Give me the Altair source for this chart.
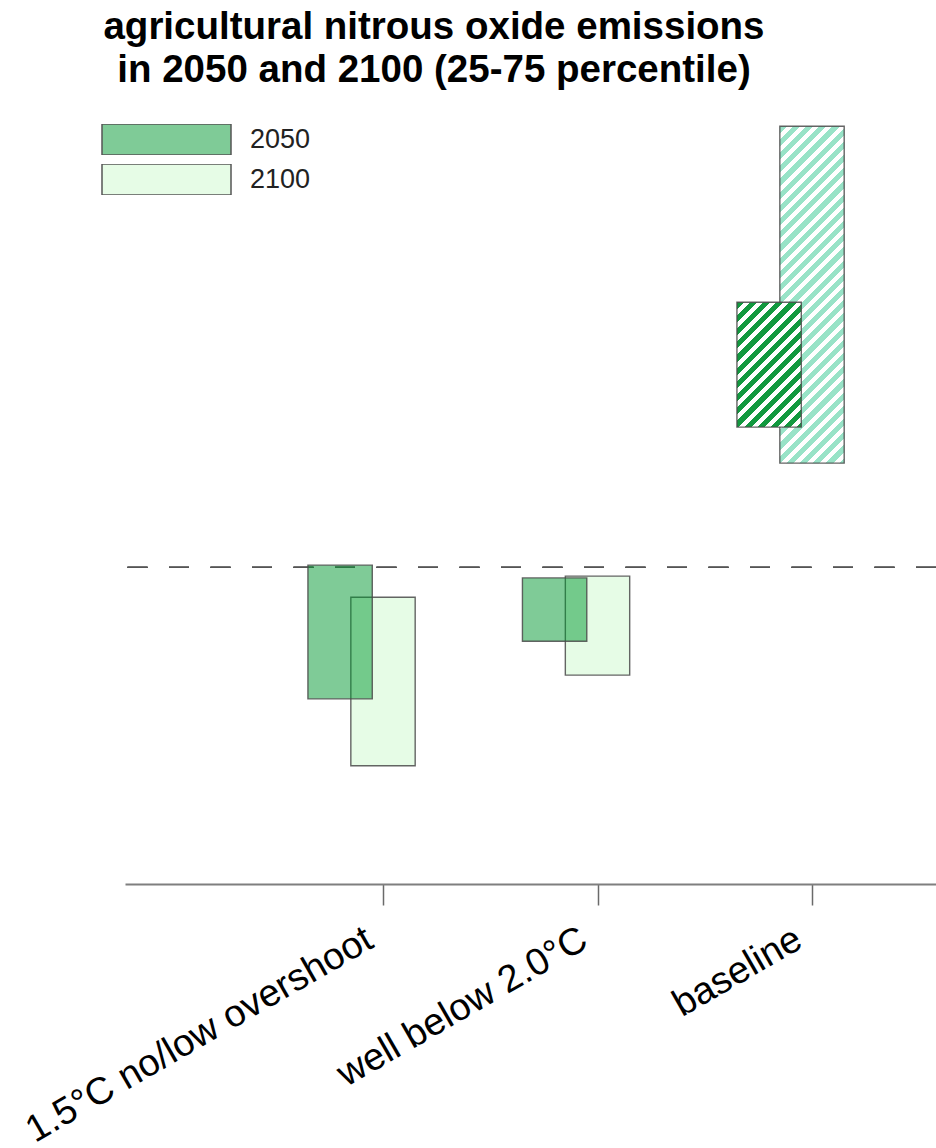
import altair as alt
import pandas as pd

# Interquartile range (25th-75th percentile) of agricultural N2O emissions,
# relative change against 2010 in percent, per scenario class and year.
scenarios = ["1.5°C no/low overshoot", "well below 2.0°C", "baseline"]
years = ["2050", "2100"]
p25_2050 = [-29.9, -16.8, 31.9]
p75_2050 = [0.5, -2.4, 60.3]
p25_2100 = [-45.1, -24.5, 23.7]
p75_2100 = [-6.8, -2.0, 100.3]

title_lines = [
    "agricultural nitrous oxide emissions",
    "in 2050 and 2100 (25-75 percentile)",
]

# ---- layout / style ----
PLOT_W, PLOT_H = 811, 774
X_DOMAIN = [-0.2028, 3.578]
Y_DOMAIN = [-72, 104]
BAR_HALF = 0.15
SHIFT_2050 = -0.2
FONT = "Liberation Sans"
FILL = {"2050": "rgba(0,151,47,0.5)", "2100": "rgba(205,249,205,0.5)"}
HATCH = {"2050": "#12993f", "2100": "#98e3c7"}
EDGE = "#4a4a4a"

rows = []
for i, s in enumerate(scenarios):
    rows.append(dict(scenario=s, pos=i + 1, year="2050", p25=p25_2050[i], p75=p75_2050[i]))
    rows.append(dict(scenario=s, pos=i + 1, year="2100", p25=p25_2100[i], p75=p75_2100[i]))
df = pd.DataFrame(rows)

label_expr = "[" + ",".join("'" + s + "'" for s in scenarios) + "][datum.value - 1]"

x_scale = alt.Scale(domain=X_DOMAIN, nice=False, zero=False)
y_scale = alt.Scale(domain=Y_DOMAIN, nice=False, zero=False)

x_axis = alt.Axis(
    values=[1, 2, 3], labelExpr=label_expr, grid=False, title=None,
    domainColor="#7f7f7f", domainWidth=2, tickColor="#6a6a6a", tickWidth=1.5,
    tickSize=21, labelAngle=330, labelAlign="right", labelBaseline="top",
    labelPadding=15, labelOffset=-23, labelFont=FONT, labelFontSize=38,
    labelColor="#000000", labelOverlap=False, labelBound=False,
    labelFlush=False, labelLimit=1000,
)


def enc_x():
    return dict(
        x=alt.X("x_lo:Q", scale=x_scale, axis=x_axis),
        x2="x_hi:Q",
        y=alt.Y("p25:Q", scale=y_scale, axis=None),
        y2="p75:Q",
    )


base = alt.Chart(df).transform_calculate(
    x_lo=f"datum.pos + (datum.year == '2050' ? {SHIFT_2050} : 0) - {BAR_HALF}",
    x_hi=f"datum.pos + (datum.year == '2050' ? {SHIFT_2050} : 0) + {BAR_HALF}",
)


def hatch_fill(color, lo, hi, period=13.2, frac=0.55):
    """Diagonal stripes as a hard-stop linear gradient in bar-relative units."""
    w = 2 * BAR_HALF * PLOT_W / (X_DOMAIN[1] - X_DOMAIN[0])
    h = (hi - lo) * PLOT_H / (Y_DOMAIN[1] - Y_DOMAIN[0])
    span = w + h
    s2 = w * w + h * h
    step = period / span
    stops = []
    k = 0
    while k * step < 1:
        a = k * step
        b = min(1.0, a + frac * step)
        c = min(1.0, (k + 1) * step)
        stops += [(a, color), (b, color), (b, "#ffffff"), (c, "#ffffff")]
        k += 1
    return alt.LinearGradient(
        gradient="linear", x1=0, y1=0, x2=w * span / s2, y2=h * span / s2,
        stops=[alt.GradientStop(offset=round(o, 5), color=col) for o, col in stops],
    )


legend = alt.Legend(
    title=None, orient="none", legendX=-24, legendY=14, padding=0,
    symbolType="M-1,-0.24H1V0.24H-1Z", symbolSize=16641,
    symbolStrokeColor="#555555", symbolStrokeWidth=1.5,
    clipHeight=31, rowPadding=9, labelOffset=18,
    labelFont=FONT, labelFontSize=27, labelColor="#222222",
)
fill_enc = alt.Fill("year:N", scale=alt.Scale(domain=years, range=[FILL[y] for y in years]),
                    legend=legend)

zero_line = alt.Chart(df).mark_rule(
    color="#555555", strokeWidth=1.2, strokeDash=[20, 21.5]
).encode(y=alt.Y(datum=0, type="quantitative", scale=y_scale, axis=None))

layers = [zero_line]
for yr in ["2100", "2050"]:
    plain = base.transform_filter(
        f"datum.year == '{yr}' && datum.scenario != 'baseline'"
    ).mark_rect(stroke=EDGE, strokeWidth=1.4, strokeOpacity=0.85).encode(
        fill=fill_enc, **enc_x()
    )
    lo = (p25_2050 if yr == "2050" else p25_2100)[2]
    hi = (p75_2050 if yr == "2050" else p75_2100)[2]
    hatched = base.transform_filter(
        f"datum.year == '{yr}' && datum.scenario == 'baseline'"
    ).mark_rect(
        fill=hatch_fill(HATCH[yr], lo, hi), stroke=EDGE, strokeWidth=1.4, strokeOpacity=0.85
    ).encode(**enc_x())
    layers += [plain, hatched]

chart = alt.layer(*layers).properties(
    width=PLOT_W,
    height=PLOT_H,
    padding={"left": 125, "top": 110, "right": 0, "bottom": 264},
    autosize=alt.AutoSizeParams(type="none"),
    title=alt.TitleParams(
        text=title_lines, font=FONT, fontSize=38.5, fontWeight="bold",
        anchor="middle", frame="group", dx=-96.5, offset=20, lineHeight=43,
        color="#000000",
    ),
).configure(background="white").configure_view(stroke="transparent", strokeWidth=0)

chart.save("out.html", embed_options={"renderer": "svg", "actions": False})
